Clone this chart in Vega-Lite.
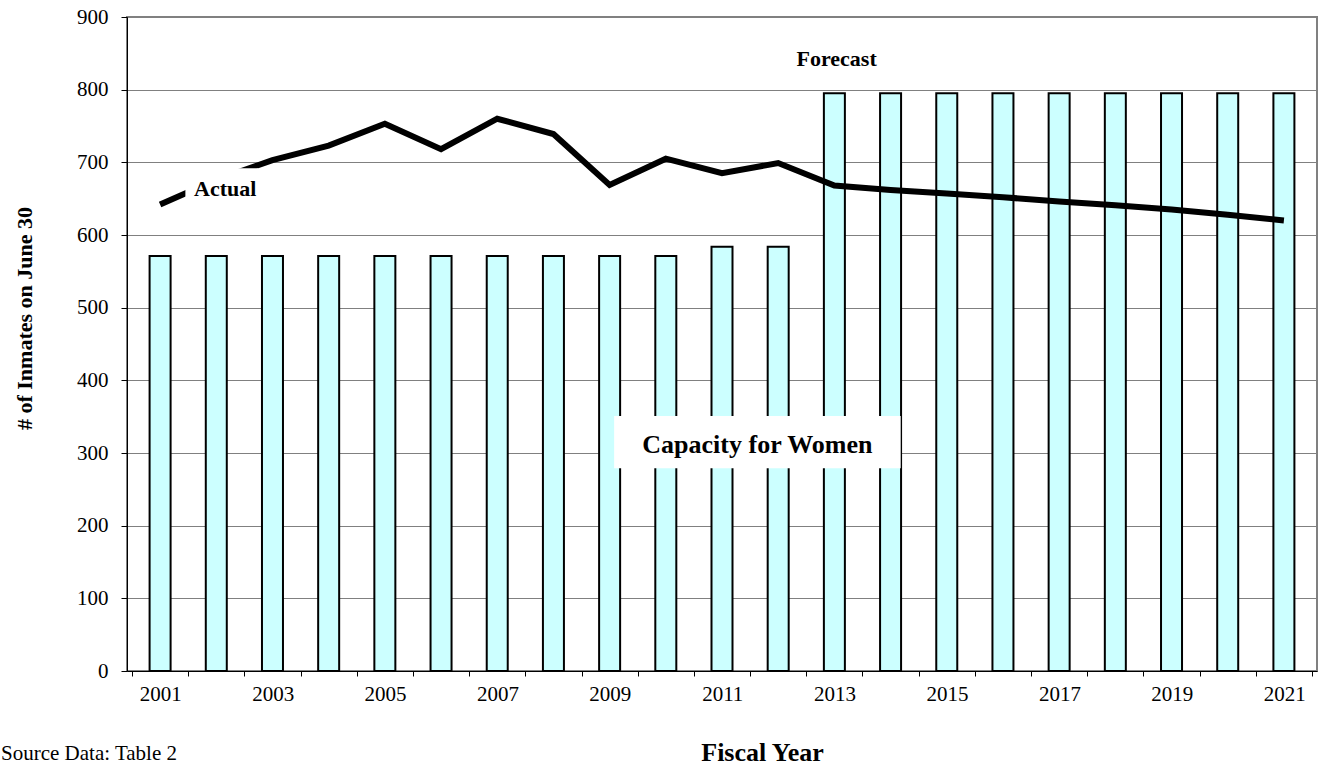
{
  "$schema": "https://vega.github.io/schema/vega-lite/v6.json",
  "width": 1190,
  "height": 654,
  "autosize": {"type": "none"},
  "padding": {"left": 127, "top": 17, "right": 12, "bottom": 97},
  "background": "white",
  "config": {
    "font": "Liberation Serif",
    "view": {"stroke": "#808080", "strokeWidth": 2}
  },
  "title": {
    "text": "Source Data: Table 2",
    "orient": "bottom",
    "anchor": "start",
    "frame": "group",
    "dx": -126,
    "dy": -5,
    "offset": 0,
    "baseline": "alphabetic",
    "font": "Liberation Serif",
    "fontSize": 21,
    "fontWeight": "normal",
    "color": "black"
  },
  "datasets": {
    "main": [
      {"year": 2001, "capacity": 571, "population": 642},
      {"year": 2002, "capacity": 571, "population": 676},
      {"year": 2003, "capacity": 571, "population": 703},
      {"year": 2004, "capacity": 571, "population": 723},
      {"year": 2005, "capacity": 571, "population": 753},
      {"year": 2006, "capacity": 571, "population": 718},
      {"year": 2007, "capacity": 571, "population": 760},
      {"year": 2008, "capacity": 571, "population": 739},
      {"year": 2009, "capacity": 571, "population": 669},
      {"year": 2010, "capacity": 571, "population": 705},
      {"year": 2011, "capacity": 584, "population": 685},
      {"year": 2012, "capacity": 584, "population": 699},
      {"year": 2013, "capacity": 795, "population": 668},
      {"year": 2014, "capacity": 795, "population": 662},
      {"year": 2015, "capacity": 795, "population": 657},
      {"year": 2016, "capacity": 795, "population": 652},
      {"year": 2017, "capacity": 795, "population": 646},
      {"year": 2018, "capacity": 795, "population": 641},
      {"year": 2019, "capacity": 795, "population": 635},
      {"year": 2020, "capacity": 795, "population": 628},
      {"year": 2021, "capacity": 795, "population": 620}
    ],
    "boxes": [
      {"x1": 2001.45, "x2": 2002.75, "y1": 641, "y2": 692},
      {"x1": 2009.08, "x2": 2014.18, "y1": 279, "y2": 351}
    ],
    "labels": [
      {"x": 2002.16, "y": 653, "text": "Actual", "size": 22},
      {"x": 2013.04, "y": 832, "text": "Forecast", "size": 22},
      {"x": 2011.63, "y": 300, "text": "Capacity for Women", "size": 26}
    ]
  },
  "layer": [
    {
      "data": {"name": "main"},
      "mark": {"type": "bar", "width": 21, "fill": "#CCFFFF", "stroke": "black", "strokeWidth": 2},
      "encoding": {
        "x": {
          "field": "year",
          "type": "quantitative",
          "scale": {"domain": [2000.5, 2021.5], "nice": false, "zero": false},
          "axis": {
            "values": [2000.5, 2001.5, 2002.5, 2003.5, 2004.5, 2005.5, 2006.5, 2007.5, 2008.5, 2009.5, 2010.5, 2011.5, 2012.5, 2013.5, 2014.5, 2015.5, 2016.5, 2017.5, 2018.5, 2019.5, 2020.5, 2021.5],
            "labelExpr": "(datum.value + 0.5) % 2 == 1 ? format(datum.value + 0.5, 'd') : ''",
            "labelOffset": 28.33,
            "labelOverlap": false,
            "labelFlush": false,
            "labelFont": "Liberation Serif",
            "labelFontSize": 21,
            "labelColor": "black",
            "labelPadding": 7,
            "tickSize": 5,
            "tickColor": "black",
            "domainColor": "black",
            "domainWidth": 1,
            "grid": false,
            "title": "Fiscal Year",
            "titleFont": "Liberation Serif",
            "titleFontSize": 26,
            "titleFontWeight": "bold",
            "titleColor": "black",
            "titleAlign": "center",
            "titleBaseline": "alphabetic",
            "titleX": 635,
            "titleY": 89
          }
        },
        "y": {
          "field": "capacity",
          "type": "quantitative",
          "scale": {"domain": [0, 900], "nice": false},
          "axis": {
            "values": [0, 100, 200, 300, 400, 500, 600, 700, 800, 900],
            "labelFont": "Liberation Serif",
            "labelFontSize": 21,
            "labelColor": "black",
            "labelPadding": 13,
            "tickSize": 6,
            "tickColor": "black",
            "domainColor": "black",
            "gridColor": "#808080",
            "gridWidth": 1,
            "title": "# of Inmates on June 30",
            "titleFont": "Liberation Serif",
            "titleFontSize": 22,
            "titleFontWeight": "bold",
            "titleColor": "black",
            "titleAngle": -90,
            "titleAlign": "center",
            "titleBaseline": "alphabetic",
            "titleX": -96,
            "titleY": 301
          }
        }
      }
    },
    {
      "data": {"name": "main"},
      "mark": {"type": "line", "stroke": "black", "strokeWidth": 6},
      "encoding": {
        "x": {"field": "year", "type": "quantitative"},
        "y": {"field": "population", "type": "quantitative"}
      }
    },
    {
      "data": {"name": "boxes"},
      "mark": {"type": "rect", "fill": "white", "stroke": null},
      "encoding": {
        "x": {"field": "x1", "type": "quantitative"},
        "x2": {"field": "x2"},
        "y": {"field": "y1", "type": "quantitative"},
        "y2": {"field": "y2"}
      }
    },
    {
      "data": {"name": "labels"},
      "mark": {"type": "text", "font": "Liberation Serif", "fontWeight": "bold", "baseline": "alphabetic", "align": "center", "color": "black"},
      "encoding": {
        "x": {"field": "x", "type": "quantitative"},
        "y": {"field": "y", "type": "quantitative"},
        "text": {"field": "text"},
        "size": {"field": "size", "type": "quantitative", "scale": null}
      }
    }
  ]
}
